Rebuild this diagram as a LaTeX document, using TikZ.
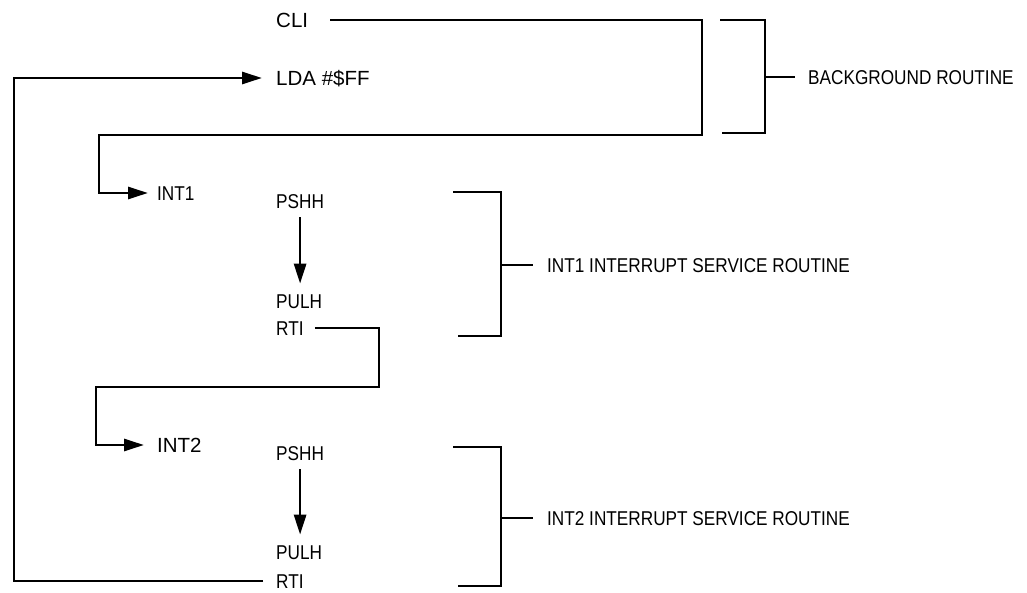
\documentclass[tikz,border=0pt]{standalone}
\usepackage{fontspec}
\setmainfont{Liberation Sans}
\newfontfamily\narrowsans{Liberation Sans}[FakeStretch=0.86]
\usetikzlibrary{arrows.meta}

\begin{document}
\begin{tikzpicture}
	[x=1pt,y=-1pt,
	 op/.style={inner sep=0pt,anchor=west,text height=14.5pt,text depth=0pt,font=\fontsize{20.5}{24}\selectfont},
	 lbl/.style={inner sep=0pt,anchor=west,text height=14.3pt,text depth=0pt,font=\narrowsans\fontsize{20}{24}\selectfont},
	 wire/.style={line width=2.8pt},
	 >={Triangle[length=20pt,width=12pt]}]
	\useasboundingbox (0,0) rectangle (1027,593);
	% background routine
	\node[op,name=cli] at (276,20) {CLI};
	\node[op,name=lda] at (276,78) {LDA \#\$FF};
	% INT1 service routine
	\node[lbl,name=int1] at (157,193) {INT1};
	\node[lbl,name=pshh1] at (276,201) {PSHH};
	\node[lbl,name=pulh1] at (276,301) {PULH};
	\node[lbl,name=rti1] at (276,328) {RTI};
	% INT2 service routine
	\node[op,name=int2] at (157,445) {INT2};
	\node[lbl,name=pshh2] at (276,453) {PSHH};
	\node[lbl,name=pulh2] at (276,552) {PULH};
	\node[lbl,name=rti2] at (276,581) {RTI};
	% bracket labels
	\node[lbl,name=bglabel] at (808,77) {BACKGROUND ROUTINE};
	\node[lbl,name=isr1label] at (547,265) {INT1 INTERRUPT SERVICE ROUTINE};
	\node[lbl,name=isr2label] at (547,518) {INT2 INTERRUPT SERVICE ROUTINE};
	% corners of the flow
	\coordinate (bgdrop) at (702,135);
	\coordinate (int1turn) at (99,193);
	\coordinate (isr1drop) at (379,387);
	\coordinate (int2turn) at (96,445);
	\coordinate (loopback) at (14,78);
	% flow of control
	\draw[wire,->] ([xshift=22pt]cli.east) -| (bgdrop) -| (int1turn) -- ([xshift=-9pt]int1.west);
	\draw[wire,->,shorten <=9pt,shorten >=10pt] (pshh1.south) -- (pshh1.south |- pulh1.north);
	\draw[wire,->] ([xshift=11pt]rti1.east) -| (isr1drop) -| (int2turn) -- ([xshift=-13pt]int2.west);
	\draw[wire,->,shorten <=9pt,shorten >=10pt] (pshh2.south) -- (pshh2.south |- pulh2.north);
	\draw[wire,->] ([xshift=-13pt]rti2.west) -| (loopback) -- ([xshift=-14pt]lda.west);
	% brackets
	\coordinate (bgbrace) at (765,77);
	\coordinate (isr1brace) at (501,265);
	\coordinate (isr2brace) at (501,518);
	\draw[wire] (720,20) -| (765,133) -- (722,133);
	\draw[wire] (453,192) -| (501,336) -- (458,336);
	\draw[wire] (453,447) -| (501,586) -- (458,586);
	\draw[wire] (bgbrace) -- ([xshift=-13pt]bglabel.west);
	\draw[wire] (isr1brace) -- ([xshift=-14pt]isr1label.west);
	\draw[wire] (isr2brace) -- ([xshift=-14pt]isr2label.west);
\end{tikzpicture}
\end{document}
